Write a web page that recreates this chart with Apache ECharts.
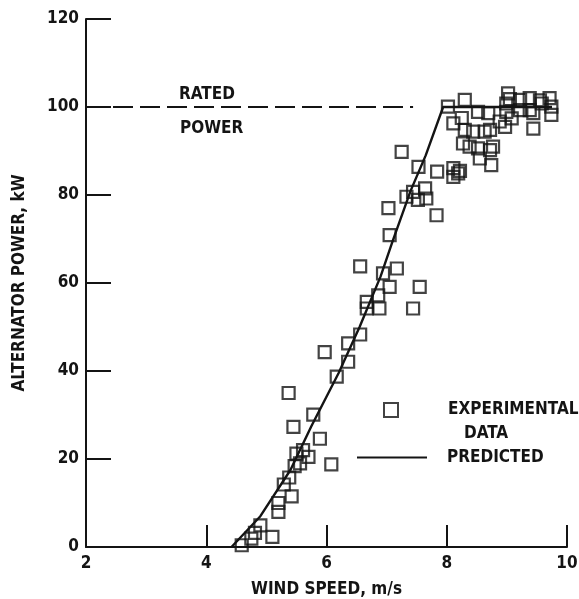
<!DOCTYPE html>
<html>
<head>
<meta charset="utf-8">
<title>Alternator power vs wind speed</title>
<script src="https://cdn.jsdelivr.net/npm/echarts@6/dist/echarts.min.js"></script>
<style>
    html, body { margin: 0; padding: 0; background: #fff; }
    #chart { width: 579px; height: 599px; }
</style>
</head>
<body>
<div id="chart"></div>
<script>
// ---- 数据：风速 (m/s) 与发电机功率 (kW) ----
var xTicks = [2, 4, 6, 8, 10];
var yTicks = [0, 20, 40, 60, 80, 100, 120];
var ratedPower = 100;
var ratedLineEnd = 7.44;   // 额定功率虚线终点风速

// 试验数据点 [风速, 功率]
var experimental = [
    [4.59, 0.4], [4.75, 1.9], [4.81, 3.2], [4.90, 4.9], [5.10, 2.3],
    [5.20, 8.0], [5.20, 10.0], [5.29, 14.2], [5.38, 15.8], [5.42, 11.5],
    [5.47, 18.4], [5.56, 19.0], [5.50, 21.2], [5.61, 22.0], [5.70, 20.5],
    [5.37, 35.0], [5.45, 27.3], [5.78, 30.1], [5.89, 24.6], [6.08, 18.8],
    [5.97, 44.3], [6.17, 38.7], [6.36, 42.1], [6.36, 46.3], [6.56, 48.3],
    [6.56, 63.8], [6.67, 55.7], [6.67, 54.2], [6.88, 54.2], [6.86, 57.2],
    [6.94, 62.2], [7.05, 59.1], [7.17, 63.3], [7.05, 70.9], [7.03, 77.0],
    [7.55, 59.1], [7.44, 54.2], [7.25, 89.8], [7.53, 86.4], [7.33, 79.6],
    [7.44, 80.7], [7.52, 78.9], [7.64, 81.5], [7.66, 79.2], [7.83, 75.4],
    [7.84, 85.3], [8.02, 100.1], [8.30, 101.6], [8.25, 97.5], [8.11, 96.3],
    [8.30, 94.8], [8.52, 98.9], [8.69, 98.6], [8.44, 94.4], [8.63, 94.4],
    [8.72, 94.8], [8.27, 91.7], [8.38, 91.0], [8.52, 90.6], [8.72, 90.2],
    [8.77, 91.0], [8.55, 88.3], [8.74, 86.8], [8.11, 86.1], [8.19, 84.9],
    [8.11, 84.1], [8.22, 85.5], [9.02, 103.1], [8.99, 100.8], [8.99, 98.9],
    [9.22, 101.6], [9.38, 102.0], [9.22, 99.3], [9.38, 99.3], [9.71, 102.0],
    [9.74, 100.1], [9.74, 98.2], [9.58, 100.8], [8.97, 95.5], [8.88, 96.7],
    [9.44, 95.1], [9.08, 97.4], [9.44, 98.6], [9.55, 101.5], [9.05, 101.8]
];

// 预测功率曲线 [风速, 功率]
var predicted = [
    [4.42, 0], [4.90, 7], [5.40, 17.5], [5.75, 27.5], [6.20, 39.5],
    [6.55, 50], [6.90, 61.5], [7.10, 69.5], [7.40, 81], [7.65, 89],
    [7.94, 100], [9.75, 100]
];

var chart = echarts.init(document.getElementById('chart'));

var font = '"DejaVu Sans Condensed", "Liberation Sans Narrow", sans-serif';
var ink = '#141414';
var fs = 17;

chart.setOption({
    animation: false,
    backgroundColor: '#fff',
    textStyle: { fontFamily: font, color: ink, fontWeight: 'bold' },
    grid: { left: 86, right: 12, top: 19, bottom: 52, outerBoundsMode: 'none', containLabel: false },
    xAxis: {
        type: 'value',
        min: xTicks[0],
        max: xTicks[xTicks.length - 1],
        interval: 2,
        name: 'WIND SPEED, m/s',
        nameLocation: 'middle',
        nameGap: 34,
        nameTextStyle: { fontFamily: font, fontSize: fs, color: ink, fontWeight: 'bold' },
        axisLine: { lineStyle: { color: ink, width: 2 } },
        axisTick: { inside: true, length: 22, lineStyle: { color: ink, width: 2 } },
        axisLabel: { fontFamily: font, fontSize: fs, color: ink, fontWeight: 'bold', margin: 8 },
        splitLine: { show: false }
    },
    yAxis: {
        type: 'value',
        min: yTicks[0],
        max: yTicks[yTicks.length - 1],
        interval: 20,
        name: 'ALTERNATOR POWER, kW',
        nameLocation: 'middle',
        nameRotate: 90,
        nameGap: 58,
        nameTextStyle: { fontFamily: font, fontSize: fs, color: ink, fontWeight: 'bold' },
        axisLine: { show: true, lineStyle: { color: ink, width: 2 } },
        axisTick: { show: true, inside: true, length: 25, lineStyle: { color: ink, width: 2 } },
        axisLabel: { fontFamily: font, fontSize: fs, color: ink, fontWeight: 'bold', margin: 7 },
        splitLine: { show: false }
    },
    legend: [
        {
            data: ['EXPERIMENTAL DATA'],
            left: 383, top: 374,
            padding: 0,
            itemWidth: 14, itemHeight: 14,
            formatter: function () { return '\nEXPERIMENTAL\n   DATA'; },
            textStyle: { fontFamily: font, fontSize: fs, color: ink, fontWeight: 'bold', lineHeight: 24, padding: [0, 0, 0, 45] }
        },
        {
            data: [{ name: 'PREDICTED', icon: 'rect' }],
            left: 357, top: 449,
            padding: 0,
            itemWidth: 70, itemHeight: 2,
            textStyle: { fontFamily: font, fontSize: fs, color: ink, fontWeight: 'bold', padding: [0, 0, 0, 15] }
        }
    ],
    graphic: [
        { type: 'text', left: 179, top: 86, style: { text: 'RATED', font: 'bold ' + fs + 'px ' + font, fill: ink } },
        { type: 'text', left: 180, top: 120, style: { text: 'POWER', font: 'bold ' + fs + 'px ' + font, fill: ink } }
    ],
    series: [
        {
            name: 'RATED',
            type: 'line',
            data: [[xTicks[0], ratedPower], [ratedLineEnd, ratedPower]],
            symbol: 'none',
            silent: true,
            lineStyle: { color: ink, width: 2, type: [20, 7] }
        },
        {
            name: 'PREDICTED',
            type: 'line',
            data: predicted,
            symbol: 'none',
            lineStyle: { color: ink, width: 2.4 },
            itemStyle: { color: ink }
        },
        {
            name: 'EXPERIMENTAL DATA',
            type: 'scatter',
            data: experimental,
            symbol: 'rect',
            symbolSize: 12,
            itemStyle: { color: 'rgba(0,0,0,0)', borderColor: ink, borderWidth: 2.2 }
        }
    ]
});
</script>
</body>
</html>
